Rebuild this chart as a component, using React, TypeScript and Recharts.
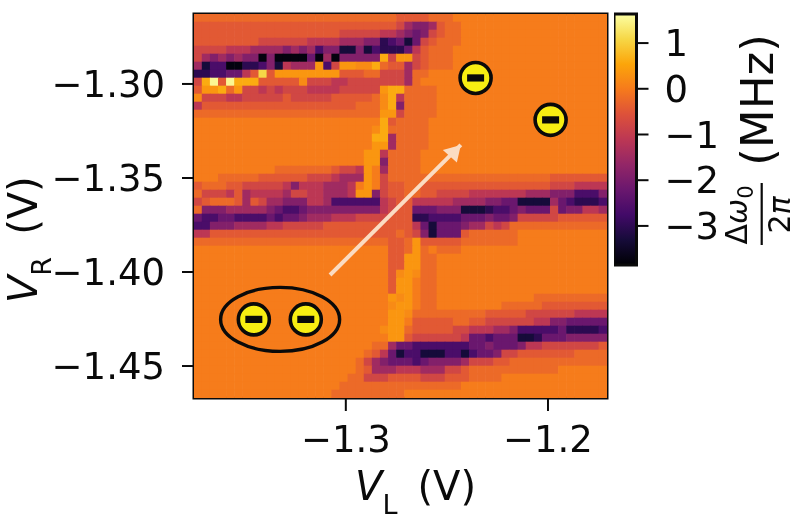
/**
 * Charge stability map (inferno heatmap) with a colorbar, drawn with recharts scatter cells
 */

import { ScatterChart, Scatter, XAxis, YAxis, ReferenceArea } from 'recharts';

// Axis limits and ticks, in volts
const xLimits = [-1.3751, -1.1708];
const yLimits = [-1.467, -1.2628];
const xTicks = [-1.3, -1.2];
const yTicks = [-1.45, -1.4, -1.35, -1.3];

// Colorbar limits and ticks, in MHz
const colorLimits = [-3.855, 1.636];
const colorTicks = [-3, -2, -1, 0, 1];

// Matplotlib inferno, sampled every 0.1
const inferno = [
  '#000004', '#160b39', '#420a68', '#6a176e', '#932667', '#bc3754',
  '#dd513a', '#f67a1c', '#fca50a', '#f6d746', '#fcffa4',
];

// What each letter in the map rows stands for, in MHz
const levelCodes = '0123456789abcdefg';
const levelValues = [
  -3.75, -3.3, -3.03, -2.65, -2.21, -1.88, -1.49, -1.11, -0.78,
  -0.45, -0.23, 0.02, 0.21, 0.35, 0.6, 1.09, 1.53,
];

// Map rows, top to bottom, in blocks of ten columns.
// Missing cells at the right end are background.
const COLS = 51;
const mapRows = [
  'aaaaaaaaaa' + 'aaaaaaaaaa' + 'aaaaa9999a' + 'aa',
  '9999999999' + '9999999999' + '9999986556' + '9aa',
  '9999999999' + '9999999988' + '8887765458' + '9aa',
  '9999999988' + '8888777766' + '6552341489' + 'aaa',
  '8888777666' + '6565635511' + '513222479a' + 'aa',
  '8656565505' + '0000406055' + '555e8dd89a' + 'aa',
  '6133002235' + '17666d38dd' + 'ccea99689a' + 'aa',
  '22334479f9' + 'dddddddd99' + '9aa8886aab',
  '8eg9geee99' + '999c888778' + '8888886abb',
  '9ddead8878' + '7888777788' + '888deeaaaa',
  'c888778888' + '8988888999' + '99ace7aaaa',
  '7999999999' + '9999999999' + 'aaace5aaaa',
  'aaaaaaaaaa' + 'aaaaaaaaaa' + 'aaadd8aaaa',
  'bbbbbbbbbb' + 'bbbbbbbbbb' + 'bbbe9aaaab',
  'bbbbbbbbbb' + 'bbbbbbbbbb' + 'bbceaaaaab',
  'bbbbbbbbbb' + 'bbbbbbbbbb' + 'bbee6aaaab',
  'bbbbbbbbbb' + 'bbbbbbbbbb' + 'bbdd6aaaab',
  'bbbbbbbbbb' + 'bbbbbbbbbb' + 'bdd7aaaabb',
  'bbbbbbbbbb' + 'bbbbbbbbbb' + 'bdd5aaaabb',
  'bbbbbbbbbb' + 'aaaaaaa988' + '7db6aaaabb',
  'bbbaaaaa99' + '9999888766' + '6db8aaaaaa' + 'aaaaaaaaaa' + 'aaaa999999' + '9',
  '9aaa998888' + '8757776667' + 'bdb899aa99' + '9999999999' + '9999888777' + '7',
  'a888796777' + '7688776667' + 'dd5899aa99' + '8888777777' + '7666555333' + '5',
  '89aaa96986' + '6555776333' + '3337899777' + '7766665544' + '1111643222' + '3',
  'a555666665' + '4334555555' + '5557899444' + '5551112334' + '5444845577' + '6',
  '4334433334' + '3445666777' + '8888999223' + '3334445445' + '8888899999' + '9',
  '3355566667' + '7888889999' + '9999999741' + '444566878a' + 'aaaaaaaaaa' + 'a',
  '7799999999' + '9999999999' + '99999a9851' + '4449aaaaaa',
  'aaaaaaaaaa' + 'aaaaaaaaaa' + 'aaaa99ad99' + '999aaaaaaa',
  'bbbbbbbbbb' + 'bbbbbbbbbb' + 'bbbb99adab' + 'aaa',
  'bbbbbbbbbb' + 'bbbbbbbbbb' + 'bbbb99ddaa',
  'bbbbbbbbbb' + 'bbbbbbbbbb' + 'bbbb99ddaa',
  'bbbbbbbbbb' + 'bbbbbbbbbb' + 'bbbb9cdcaa',
  'bbbbbbbbbb' + 'bbbbbbbbbb' + 'bbbb9ddbaa',
  'bbbbbbbbbb' + 'bbbbbbbbbb' + 'bbbb9ddbaa',
  'bbbbbbbbbb' + 'bbbbbbbbbb' + 'bbbbdcdbaa' + 'bbbbbbbbbb' + 'bbaaaaaaaa' + 'a',
  'bbbbbbbbbb' + 'bbbbbbbbbb' + 'bbbbcddbaa' + 'bbbbbbbbaa' + 'aaa9999999' + '9',
  'bbbbbbbbbb' + 'bbbbbbbbbb' + 'bbbbddcaaa' + 'aaaaaa9999' + '9888888777' + '7',
  'bbbbbbbbbb' + 'bbbbbbbbbb' + 'bbbbddb999' + '99aa998888' + '8877554444' + '4',
  'bbbbbbbbbb' + 'bbbbbbbbbb' + 'bbbcdda999' + '9988777665' + '3333342222' + '3',
  'bbbbbbbbbb' + 'bbbbbbbbbb' + 'bbbbdd9888' + '8887443444' + '1124445555' + '5',
  'bbbbbbbbbb' + 'bbbbbbbbbb' + 'bbaa644333' + '3333445444' + '5778888888' + '9',
  'bbbbbbbbbb' + 'bbbbbbbbbb' + 'ba97413311' + '1331344588' + '9999999aaa' + 'a',
  'bbbbbbbbbb' + 'bbbbbbbbbb' + 'a865444345' + '555688899a' + 'aaaaaaaaaa' + 'a',
  'bbbbbbbbbb' + 'bbbbbbbbbb' + 'a966677766' + '6889aaaaaa' + 'aaaaa',
  'bbbbbbbbbb' + 'bbbbbbbbba' + 'a888999988' + '8999aaaabb',
  'bbbbbbbbbb' + 'bbbbbbbbaa' + 'aaaaaaaaaa' + 'aaa',
  'bbbbbbbbbb' + 'bbbbbbbaaa' + 'aaaaaa',
];

// Annotations on the map, in volts
const dotX = [-1.3455, -1.3198, -1.2358, -1.1987];
const dotY = [-1.4252, -1.4252, -1.2968, -1.3191];
const ellipseX = [-1.3325];
const ellipseY = [-1.4252];
const arrowX = [-1.3078, -1.2431];
const arrowY = [-1.4016, -1.3324];

const font = '"DejaVu Sans", sans-serif';
const ink = '#0a0a0a';
const arrowColor = '#fbdcc2';
const CELL_W = 8.7;
const CELL_H = 8.6;

function colorFor(value: number) {
  const t = Math.min(1, Math.max(0, (value - colorLimits[0]) / (colorLimits[1] - colorLimits[0])));
  const pos = t * (inferno.length - 1);
  const i = Math.min(inferno.length - 2, Math.floor(pos));
  const mix = (shift: number) => {
    const a = (parseInt(inferno[i].slice(1), 16) >> shift) & 255;
    const b = (parseInt(inferno[i + 1].slice(1), 16) >> shift) & 255;
    return Math.round(a + (b - a) * (pos - i));
  };
  return `rgb(${mix(16)},${mix(8)},${mix(0)})`;
}

const dx = (xLimits[1] - xLimits[0]) / COLS;
const dy = (yLimits[1] - yLimits[0]) / mapRows.length;

const cells = mapRows.flatMap((row, r) =>
  row.padEnd(COLS, 'b').slice(0, COLS).split('').map((code, c) => ({
    x: xLimits[0] + (c + 0.5) * dx,
    y: yLimits[1] - (r + 0.5) * dy,
    value: levelValues[levelCodes.indexOf(code)],
  })),
);

const zip = (xs: number[], ys: number[]) => xs.map((x, i) => ({ x, y: ys[i] }));

function CellShape({ cx, cy, payload }: any) {
  return (
    <rect
      x={cx - CELL_W / 2}
      y={cy - CELL_H / 2}
      width={CELL_W}
      height={CELL_H}
      fill={colorFor(payload.value)}
    />
  );
}

function DotShape({ cx, cy }: any) {
  return (
    <g>
      <circle cx={cx} cy={cy} r={15.5} fill="#f8ee12" stroke={ink} strokeWidth={3.6} />
      <rect x={cx - 8.5} y={cy - 3.6} width={17} height={7.2} fill={ink} />
    </g>
  );
}

function EllipseShape({ cx, cy }: any) {
  return <ellipse cx={cx} cy={cy} rx={59.5} ry={32} fill="none" stroke={ink} strokeWidth={3.4} />;
}

function ArrowShape({ cx, cy, index }: any) {
  if (index === 0) return <g />;
  return (
    <polygon
      points={`${cx},${cy} ${cx - 18},${cy + 5} ${cx - 4},${cy + 17.7}`}
      fill={arrowColor}
    />
  );
}

const NoShape = () => <g />;

const voltTick = (digits: number) => (v: number) => v.toFixed(digits).replace('-', '\u2212');

export default function App() {
  const tickStyle = { fill: ink, fontSize: 37, fontFamily: font };
  const lineStyle = { stroke: ink, strokeWidth: 2 };
  return (
    <div style={{ position: 'absolute', left: 0, top: 0, width: 800, height: 530, background: '#fff', filter: 'blur(0.5px)' }}>
      <div style={{ position: 'absolute', left: 0, top: 0 }}>
        <ScatterChart
          width={800}
          height={530}
          margin={{ top: 14, right: 193, bottom: 72, left: 74 }}
        >
          <XAxis
            type="number"
            dataKey="x"
            domain={xLimits}
            ticks={xTicks}
            allowDataOverflow
            interval={0}
            height={60}
            tick={tickStyle}
            tickSize={13}
            tickMargin={15}
            tickFormatter={voltTick(1)}
            tickLine={lineStyle}
            axisLine={false}
          />
          <YAxis
            type="number"
            dataKey="y"
            domain={yLimits}
            ticks={yTicks}
            allowDataOverflow
            interval={0}
            width={120}
            tick={tickStyle}
            tickSize={12}
            tickMargin={17}
            tickFormatter={voltTick(2)}
            tickLine={lineStyle}
            axisLine={false}
          />
          <Scatter data={cells} shape={CellShape} isAnimationActive={false} />
          <Scatter
            data={zip(arrowX, arrowY)}
            line={{ stroke: arrowColor, strokeWidth: 4 }}
            shape={ArrowShape}
            isAnimationActive={false}
          />
          <Scatter data={zip(ellipseX, ellipseY)} shape={EllipseShape} isAnimationActive={false} />
          <Scatter data={zip(dotX, dotY)} shape={DotShape} isAnimationActive={false} />
          <ReferenceArea
            x1={xLimits[0]}
            x2={xLimits[1]}
            y1={yLimits[0]}
            y2={yLimits[1]}
            fill="none"
            stroke={ink}
            strokeWidth={3}
          />
          <text fontFamily={font} fontSize={40} fill={ink} x={355} y={500}>
            <tspan fontStyle="italic">V</tspan>
            <tspan fontSize={27} dy={14}>L</tspan>
            <tspan dy={-14} dx={20}>(V)</tspan>
          </text>
          <text fontFamily={font} fontSize={40} fill={ink} transform="translate(37,303) rotate(-90)">
            <tspan fontStyle="italic">V</tspan>
            <tspan fontSize={27} dy={14}>R</tspan>
            <tspan dy={-14} dx={22}>(V)</tspan>
          </text>
        </ScatterChart>
      </div>
      <div style={{ position: 'absolute', left: 614, top: 0 }}>
        <ScatterChart
          width={186}
          height={530}
          margin={{ top: 14, right: 0, bottom: 265, left: 0 }}
        >
          <defs>
            <linearGradient id="infernoBar" x1="0" y1="1" x2="0" y2="0">
              {inferno.map((color, i) => (
                <stop key={color} offset={i / (inferno.length - 1)} stopColor={color} />
              ))}
            </linearGradient>
          </defs>
          <XAxis type="number" dataKey="x" domain={[0, 1]} allowDataOverflow hide />
          <YAxis
            type="number"
            dataKey="y"
            orientation="right"
            domain={colorLimits}
            ticks={colorTicks}
            allowDataOverflow
            interval={0}
            width={163.5}
            tick={tickStyle}
            tickSize={12}
            tickMargin={16}
            tickFormatter={voltTick(0)}
            tickLine={lineStyle}
            axisLine={false}
          />
          <Scatter
            data={colorTicks.map((y) => ({ x: 0.5, y }))}
            shape={NoShape}
            isAnimationActive={false}
          />
          <ReferenceArea
            x1={0}
            x2={1}
            y1={colorLimits[0]}
            y2={colorLimits[1]}
            fill="url(#infernoBar)"
            fillOpacity={1}
            stroke={ink}
            strokeWidth={3}
          />
          <text fontFamily={font} fontSize={45} fill={ink} textAnchor="middle" transform="translate(159,100) rotate(-90)">
            (MHz)
          </text>
          <text fontFamily={font} fontSize={30} fill={ink} textAnchor="middle" transform="translate(133,215) rotate(-90)">
            <tspan>{'\u0394'}</tspan>
            <tspan fontStyle="italic">{'\u03c9'}</tspan>
            <tspan fontSize={21} dy={6}>0</tspan>
          </text>
          <rect x={146.6} y={183} width={2.2} height={62} fill={ink} />
          <text fontFamily={font} fontSize={30} fill={ink} textAnchor="middle" transform="translate(176,215) rotate(-90)">
            2<tspan fontStyle="italic">{'\u03c0'}</tspan>
          </text>
        </ScatterChart>
      </div>
    </div>
  );
}
